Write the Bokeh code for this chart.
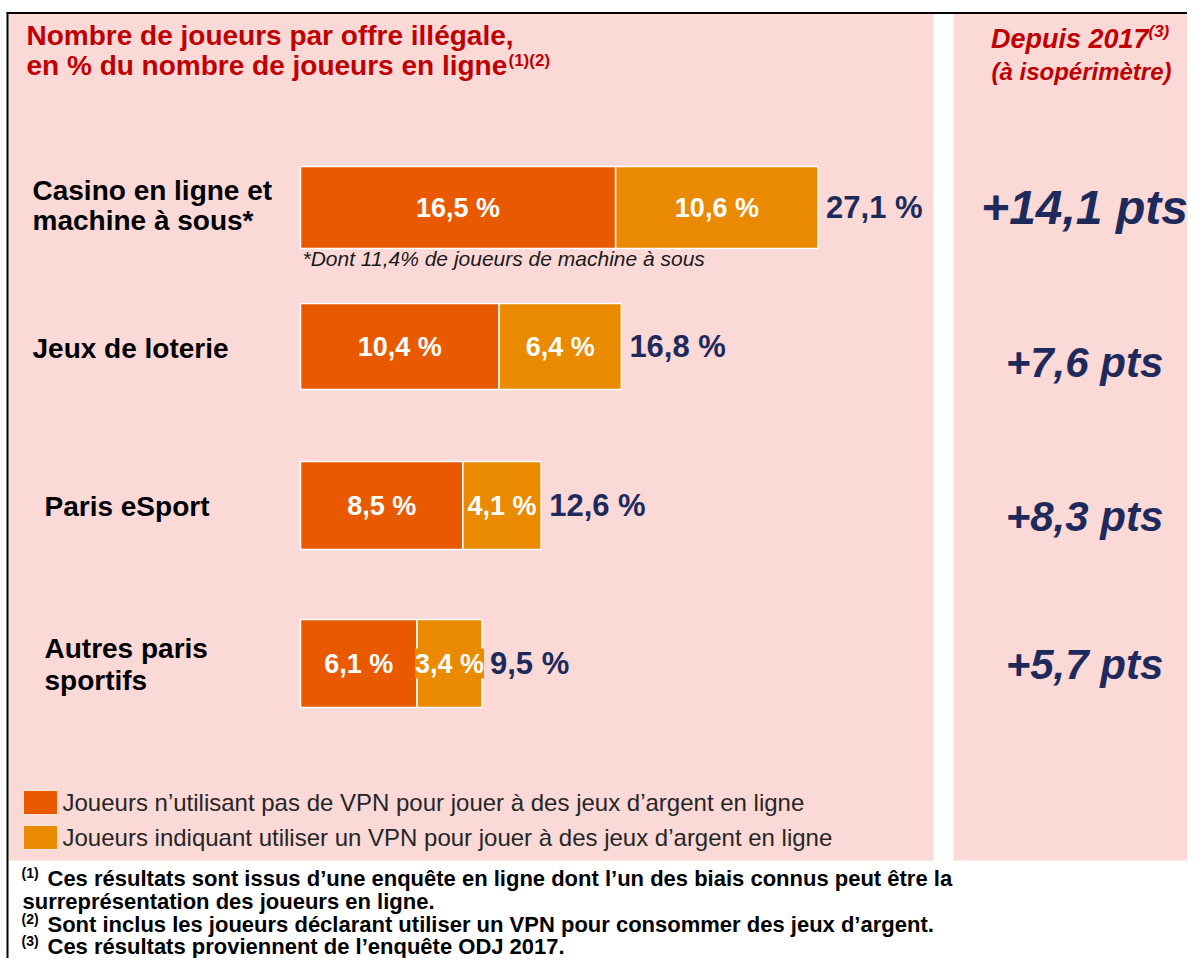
from bokeh.plotting import figure
from bokeh.models import Range1d, ColumnDataSource
from bokeh.core.properties import value
from bokeh.embed import file_html
from bokeh.resources import INLINE

# ---------------- data ----------------
categories = ["Casino en ligne et\nmachine à sous*", "Jeux de loterie",
              "Paris eSport", "Autres paris\nsportifs"]
no_vpn = [16.5, 10.4, 8.5, 6.1]
vpn = [10.6, 6.4, 4.1, 3.4]
totals = [27.1, 16.8, 12.6, 9.5]
change_since_2017 = [14.1, 7.6, 8.3, 5.7]
series_names = ["Joueurs n’utilisant pas de VPN pour jouer à des jeux d’argent en ligne",
                "Joueurs indiquant utiliser un VPN pour jouer à des jeux d’argent en ligne"]
title_lines = ["Nombre de joueurs par offre illégale,", "en % du nombre de joueurs en ligne"]
title_sup = "(1)(2)"
right_header = ["Depuis 2017", "(à isopérimètre)"]
right_sup = "(3)"
casino_note = "*Dont 11,4% de joueurs de machine à sous"
footnotes = [("(1)", "Ces résultats sont issus d’une enquête en ligne dont l’un des biais connus peut être la"),
             ("", "surreprésentation des joueurs en ligne."),
             ("(2)", "Sont inclus les joueurs déclarant utiliser un VPN pour consommer des jeux d’argent."),
             ("(3)", "Ces résultats proviennent de l’enquête ODJ 2017.")]

# ---------------- layout / style ----------------
W, H = 1187, 958
FONT = value("Liberation Sans")
PINK = "#FAD9D7"
DARK_OR = "#E95A00"
LIGHT_OR = "#EA8A00"
NAVY = "#1F2A5C"
RED = "#C00000"
BAR_X0 = 300
PX_PER_PCT = 19.1
ROW_Y = [207, 346, 505, 663]
BAR_H = [82, 86, 88, 88]
LABEL_X = [32, 32, 44, 44]
LABEL_LINE_Y = [[190, 220], [348], [506], [648, 680]]
RIGHT_Y = [207, 362, 516, 664]
RIGHT_SIZE = ["48px", "42px", "42px", "42px"]


def fr(v):
    return f"{v:.1f}".replace(".", ",")


p = figure(width=W, height=H, output_backend="svg", toolbar_location=None,
           x_range=Range1d(0, W), y_range=Range1d(H, 0),
           x_axis_location=None, y_axis_location=None, min_border=0,
           background_fill_color="white", border_fill_color="white",
           outline_line_color=None)
p.xgrid.visible = False
p.ygrid.visible = False
p.extra_x_ranges = {"pct": Range1d(-BAR_X0 / PX_PER_PCT, (W - BAR_X0) / PX_PER_PCT)}

# panels
p.quad(left=[8, 953], right=[933, W], top=[13, 13], bottom=[860, 860],
       fill_color=PINK, line_color=None)
# outer border
p.segment(x0=[6, 7], y0=[12.5, 12], x1=[W, 7], y1=[12.5, H],
          line_color="black", line_width=2)

# bars
src = ColumnDataSource(dict(y=ROW_Y, h=BAR_H, a=no_vpn, b=vpn,
                            ab=[a + b for a, b in zip(no_vpn, vpn)],
                            amid=[a / 2 for a in no_vpn],
                            bmid=[a + b / 2 for a, b in zip(no_vpn, vpn)],
                            tot=totals,
                            alab=[fr(v) + " %" for v in no_vpn],
                            blab=[fr(v) + " %" for v in vpn],
                            tlab=[fr(v) + " %" for v in totals]))
p.hbar(y="y", left=0, right="a", height="h", source=src, x_range_name="pct",
       fill_color=DARK_OR, line_color="white", line_width=1.5)
p.hbar(y="y", left="a", right="ab", height="h", source=src, x_range_name="pct",
       fill_color=LIGHT_OR, line_color="white", line_width=1.5)
p.text(x="amid", y="y", text="alab", source=src, x_range_name="pct",
       text_font=FONT, text_font_size="27px", text_font_style="bold",
       text_color="white", text_align="center", text_baseline="middle")
p.text(x="bmid", y="y", text="blab", source=src, x_range_name="pct",
       text_font=FONT, text_font_size="27px", text_font_style="bold",
       text_color="white", text_align="center", text_baseline="middle",
       background_fill_color=LIGHT_OR, padding=0)
p.text(x="tot", y="y", text="tlab", source=src, x_range_name="pct", x_offset=8,
       text_font=FONT, text_font_size="31px", text_font_style="bold",
       text_color=NAVY, text_align="left", text_baseline="middle")

# category labels
lx, ly, lt = [], [], []
for cat, x, ys in zip(categories, LABEL_X, LABEL_LINE_Y):
    for line, yy in zip(cat.split("\n"), ys):
        lx.append(x); ly.append(yy); lt.append(line)
p.text(x=lx, y=ly, text=lt, text_font=FONT, text_font_size="28px",
       text_font_style="bold", text_color="black", text_align="left",
       text_baseline="middle")

p.text(x=[302], y=[258], text=[casino_note], text_font=FONT, text_font_size="21px",
       text_font_style="italic", text_color="#1A1A1A", text_align="left",
       text_baseline="middle")

# title
p.text(x=[26, 26], y=[35, 65], text=title_lines, text_font=FONT, text_font_size="28px",
       text_font_style="bold", text_color=RED, text_align="left", text_baseline="middle")
p.text(x=[508], y=[60], text=[title_sup], text_font=FONT, text_font_size="17px",
       text_font_style="bold", text_color=RED, text_align="left", text_baseline="middle")

# right header
p.text(x=[1148], y=[38], text=[right_header[0]], text_font=FONT, text_font_size="27px",
       text_font_style="bold italic", text_color=RED, text_align="right", text_baseline="middle")
p.text(x=[1148], y=[31], text=[right_sup], text_font=FONT, text_font_size="17px",
       text_font_style="bold italic", text_color=RED, text_align="left", text_baseline="middle")
p.text(x=[1081], y=[71], text=[right_header[1]], text_font=FONT, text_font_size="24px",
       text_font_style="bold italic", text_color=RED, text_align="center", text_baseline="middle")

# change since 2017
for v, yy, fs in zip(change_since_2017, RIGHT_Y, RIGHT_SIZE):
    p.text(x=[1084], y=[yy], text=["+" + fr(v) + " pts"], text_font=FONT, text_font_size=fs,
           text_font_style="bold italic", text_color=NAVY, text_align="center",
           text_baseline="middle")

# legend
p.quad(left=[23, 23], right=[57, 57], top=[790, 825], bottom=[814, 849],
       fill_color=[DARK_OR, LIGHT_OR], line_color="#FBE6D2", line_width=1)
p.text(x=[62, 62], y=[802, 837], text=series_names, text_font=FONT, text_font_size="24px",
       text_color="#262626", text_align="left", text_baseline="middle")

# footnotes
FN_Y = [878, 901, 924, 946]
for (sup, txt), yy in zip(footnotes, FN_Y):
    if sup:
        p.text(x=[21], y=[yy - 6], text=[sup], text_font=FONT, text_font_size="14px",
               text_font_style="bold", text_color="black", text_align="left",
               text_baseline="middle")
        xt = 47
    else:
        xt = 22
    p.text(x=[xt], y=[yy], text=[txt], text_font=FONT, text_font_size="22px",
           text_font_style="bold", text_color="black", text_align="left",
           text_baseline="middle")

open("out.html", "w").write(file_html(p, INLINE))
